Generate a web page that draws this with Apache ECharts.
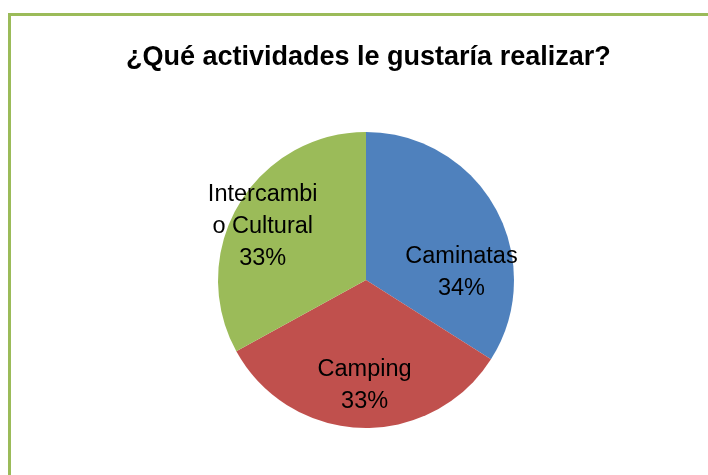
<!DOCTYPE html>
<html>
<head>
<meta charset="utf-8">
<script src="https://cdn.jsdelivr.net/npm/echarts@6/dist/echarts.min.js"></script>
<style>
  html, body { margin: 0; padding: 0; background: #ffffff; }
  #chart { width: 708px; height: 475px; }
</style>
</head>
<body>
<div id="chart"></div>
<script>
// Survey answers: share of each preferred activity (%)
const categories = ['Caminatas', 'Camping', 'Intercambio Cultural'];
const values = [34, 33, 33];
const colors = ['#4F81BD', '#C0504D', '#9BBB59'];

// Nudges that move each inside label away from its default spot
const labelOffsets = [[28, 30], [1, 29], [-37, -14]];

const chart = echarts.init(document.getElementById('chart'), null, { renderer: 'canvas' });

const labelFont = 'Liberation Sans, Arial, sans-serif';

chart.setOption({
  backgroundColor: '#ffffff',
  animation: false,
  title: {
    text: '¿Qué actividades le gustaría realizar?',
    left: 121,
    top: 39,
    textStyle: {
      fontFamily: labelFont,
      fontWeight: 'bold',
      fontSize: 27,
      color: '#000000'
    }
  },
  graphic: [{
    type: 'polyline',
    shape: { points: [[9.5, 475], [9.5, 14.5], [708, 14.5]] },
    style: { stroke: '#9BBB59', lineWidth: 3, fill: null },
    silent: true
  }],
  series: [{
    type: 'pie',
    center: [366, 280],
    radius: 148,
    startAngle: 90,
    clockwise: true,
    silent: true,
    label: {
      show: true,
      position: 'inside',
      fontFamily: labelFont,
      fontSize: 23.5,
      lineHeight: 32,
      color: '#000000',
      align: 'center',
      formatter: function (p) {
        let name = p.name;
        if (name.length > 10) {
          name = name.slice(0, 10) + '\n' + name.slice(10);
        }
        return name + '\n' + p.value + '%';
      }
    },
    labelLine: { show: false },
    itemStyle: { borderWidth: 0 },
    data: categories.map((c, i) => ({
      name: c,
      value: values[i],
      itemStyle: { color: colors[i] },
      label: { offset: labelOffsets[i] }
    }))
  }]
});
</script>
</body>
</html>
